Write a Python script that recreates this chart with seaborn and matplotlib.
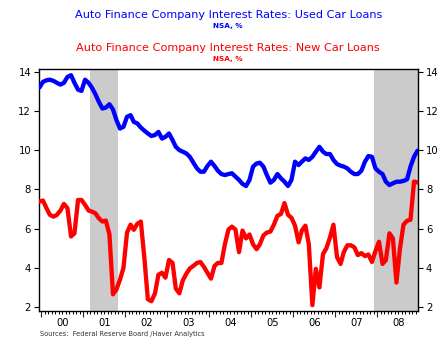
import matplotlib
matplotlib.use("Agg")
import matplotlib.pyplot as plt
import matplotlib.dates as mdates
from matplotlib.ticker import FuncFormatter
import pandas as pd
import seaborn as sns

# Monthly observations, Dec 1999 - Dec 2008 (percent, not seasonally adjusted)
start_month = "1999-12"
used_car_rate = [
    13.19, 13.48, 13.56, 13.59, 13.53, 13.43, 13.34, 13.43, 13.73, 13.82,
    13.43, 13.08, 13.02, 13.59, 13.43, 13.19, 12.85, 12.46, 12.12, 12.17,
    12.34, 12.07, 11.53, 11.10, 11.19, 11.70, 11.78, 11.44, 11.36, 11.15,
    10.99, 10.85, 10.72, 10.77, 10.93, 10.59, 10.68, 10.85, 10.51, 10.17,
    10.00, 9.92, 9.83, 9.66, 9.36, 9.07, 8.90, 8.90, 9.19, 9.41,
    9.19, 8.95, 8.78, 8.73, 8.78, 8.82, 8.65, 8.48, 8.28, 8.17,
    8.48, 9.16, 9.32, 9.36, 9.16, 8.73, 8.34, 8.48, 8.78, 8.56,
    8.39, 8.17, 8.48, 9.41, 9.24, 9.41, 9.58, 9.50, 9.66, 9.92,
    10.17, 9.92, 9.80, 9.80, 9.50, 9.29, 9.21, 9.16, 9.07, 8.90,
    8.78, 8.78, 8.95, 9.41, 9.70, 9.66, 9.07, 8.90, 8.78, 8.39,
    8.22, 8.31, 8.39, 8.39, 8.43, 8.51, 9.16, 9.66, 9.97,
]
new_car_rate = [
    7.38, 7.43, 7.04, 6.70, 6.61, 6.70, 6.92, 7.26, 7.04, 5.60,
    5.76, 7.46, 7.46, 7.21, 6.92, 6.87, 6.78, 6.53, 6.36, 6.41,
    5.70, 2.65, 2.90, 3.40, 4.00, 5.80, 6.20, 5.94, 6.25, 6.36,
    4.50, 2.40, 2.30, 2.70, 3.65, 3.75, 3.50, 4.40, 4.25, 2.95,
    2.70, 3.36, 3.70, 3.97, 4.10, 4.25, 4.30, 4.05, 3.75, 3.45,
    4.10, 4.25, 4.25, 5.20, 5.95, 6.10, 5.95, 4.80, 5.90, 5.50,
    5.70, 5.20, 4.95, 5.20, 5.65, 5.80, 5.85, 6.20, 6.65, 6.75,
    7.30, 6.70, 6.55, 6.15, 5.30, 5.90, 6.15, 5.20, 2.10, 3.95,
    3.00, 4.70, 5.00, 5.55, 6.20, 4.55, 4.20, 4.80, 5.15, 5.15,
    5.05, 4.65, 4.75, 4.60, 4.68, 4.30, 4.85, 5.33, 4.20, 4.40,
    5.76, 5.50, 3.25, 4.95, 6.20, 6.40, 6.45, 8.40, 8.35,
]
recessions = [("2001-03-01", "2001-11-01"), ("2007-12-01", "2009-01-01")]
y_ticks = [2, 4, 6, 8, 10, 12, 14]

titles = [
    ("Auto Finance Company Interest Rates: Used Car Loans", "#0000ff"),
    ("Auto Finance Company Interest Rates: New Car Loans", "#ff0000"),
]
subtitle = "NSA, %"
source_note = "Sources:  Federal Reserve Board /Haver Analytics"

months = pd.date_range(start_month, periods=len(used_car_rate), freq="MS") + pd.Timedelta(days=14)
df = pd.DataFrame({"date": months, "used": used_car_rate, "new": new_car_rate})

sns.set_theme(style="white")
plt.rcParams["font.family"] = ["DejaVu Sans"]

fig = plt.figure(figsize=(4.47, 3.47), dpi=100)
ax = fig.add_axes([0.0866, 0.1037, 0.8492, 0.6983])

# recession shading
for a, b in recessions:
    ax.axvspan(pd.Timestamp(a), pd.Timestamp(b), color="#cbcbcb", lw=0, zorder=0)

sns.lineplot(data=df, x="date", y="used", ax=ax, color="#0000ff", lw=3.1, legend=False, zorder=3)
sns.lineplot(data=df, x="date", y="new", ax=ax, color="#ff0000", lw=3.1, legend=False, zorder=4)

ax.set_xlim(pd.Timestamp("1999-12-09"), pd.Timestamp("2008-12-22"))
ax.set_ylim(1.8, 14.15)
ax.set_xlabel("")
ax.set_ylabel("")

# y axis mirrored on both sides
ax.set_yticks(y_ticks)
ax.set_yticklabels([str(t) for t in y_ticks])
ax.tick_params(axis="y", which="both", left=True, right=True, labelleft=True, labelright=True,
               direction="out", length=3.5, width=0.8, labelsize=7.2, pad=2, colors="black")

# x axis: long ticks at year boundaries, short monthly ticks, year label mid-year
ax.xaxis.set_major_locator(mdates.YearLocator())
ax.xaxis.set_major_formatter(FuncFormatter(lambda v, p: ""))
ax.xaxis.set_minor_locator(mdates.MonthLocator())


def _year_label(v, pos):
    d = mdates.num2date(v)
    return f"{d.year % 100:02d}" if d.month == 7 else ""


ax.xaxis.set_minor_formatter(FuncFormatter(_year_label))
ax.tick_params(axis="x", which="major", direction="out", length=4.5, width=0.8, bottom=True)
ax.tick_params(axis="x", which="minor", direction="out", length=2.5, width=0.7, bottom=True,
               labelsize=7.2, pad=2.5, colors="black")

for s in ax.spines.values():
    s.set_color("black")
    s.set_linewidth(1.0)
    s.set_visible(True)

cx = 0.5105
fig.text(cx, 1 - 15 / 347, titles[0][0], color=titles[0][1], ha="center", va="center", fontsize=8.1)
fig.text(cx, 1 - 26 / 347, subtitle, color=titles[0][1], ha="center", va="center", fontsize=5.2, fontweight="bold")
fig.text(cx, 1 - 48 / 347, titles[1][0], color=titles[1][1], ha="center", va="center", fontsize=8.1)
fig.text(cx, 1 - 59 / 347, subtitle, color=titles[1][1], ha="center", va="center", fontsize=5.2, fontweight="bold")
fig.text(40 / 447, 1 - 334 / 347, source_note, color="#333333", ha="left", va="center", fontsize=4.8)

fig.savefig("out.png", dpi=100)
